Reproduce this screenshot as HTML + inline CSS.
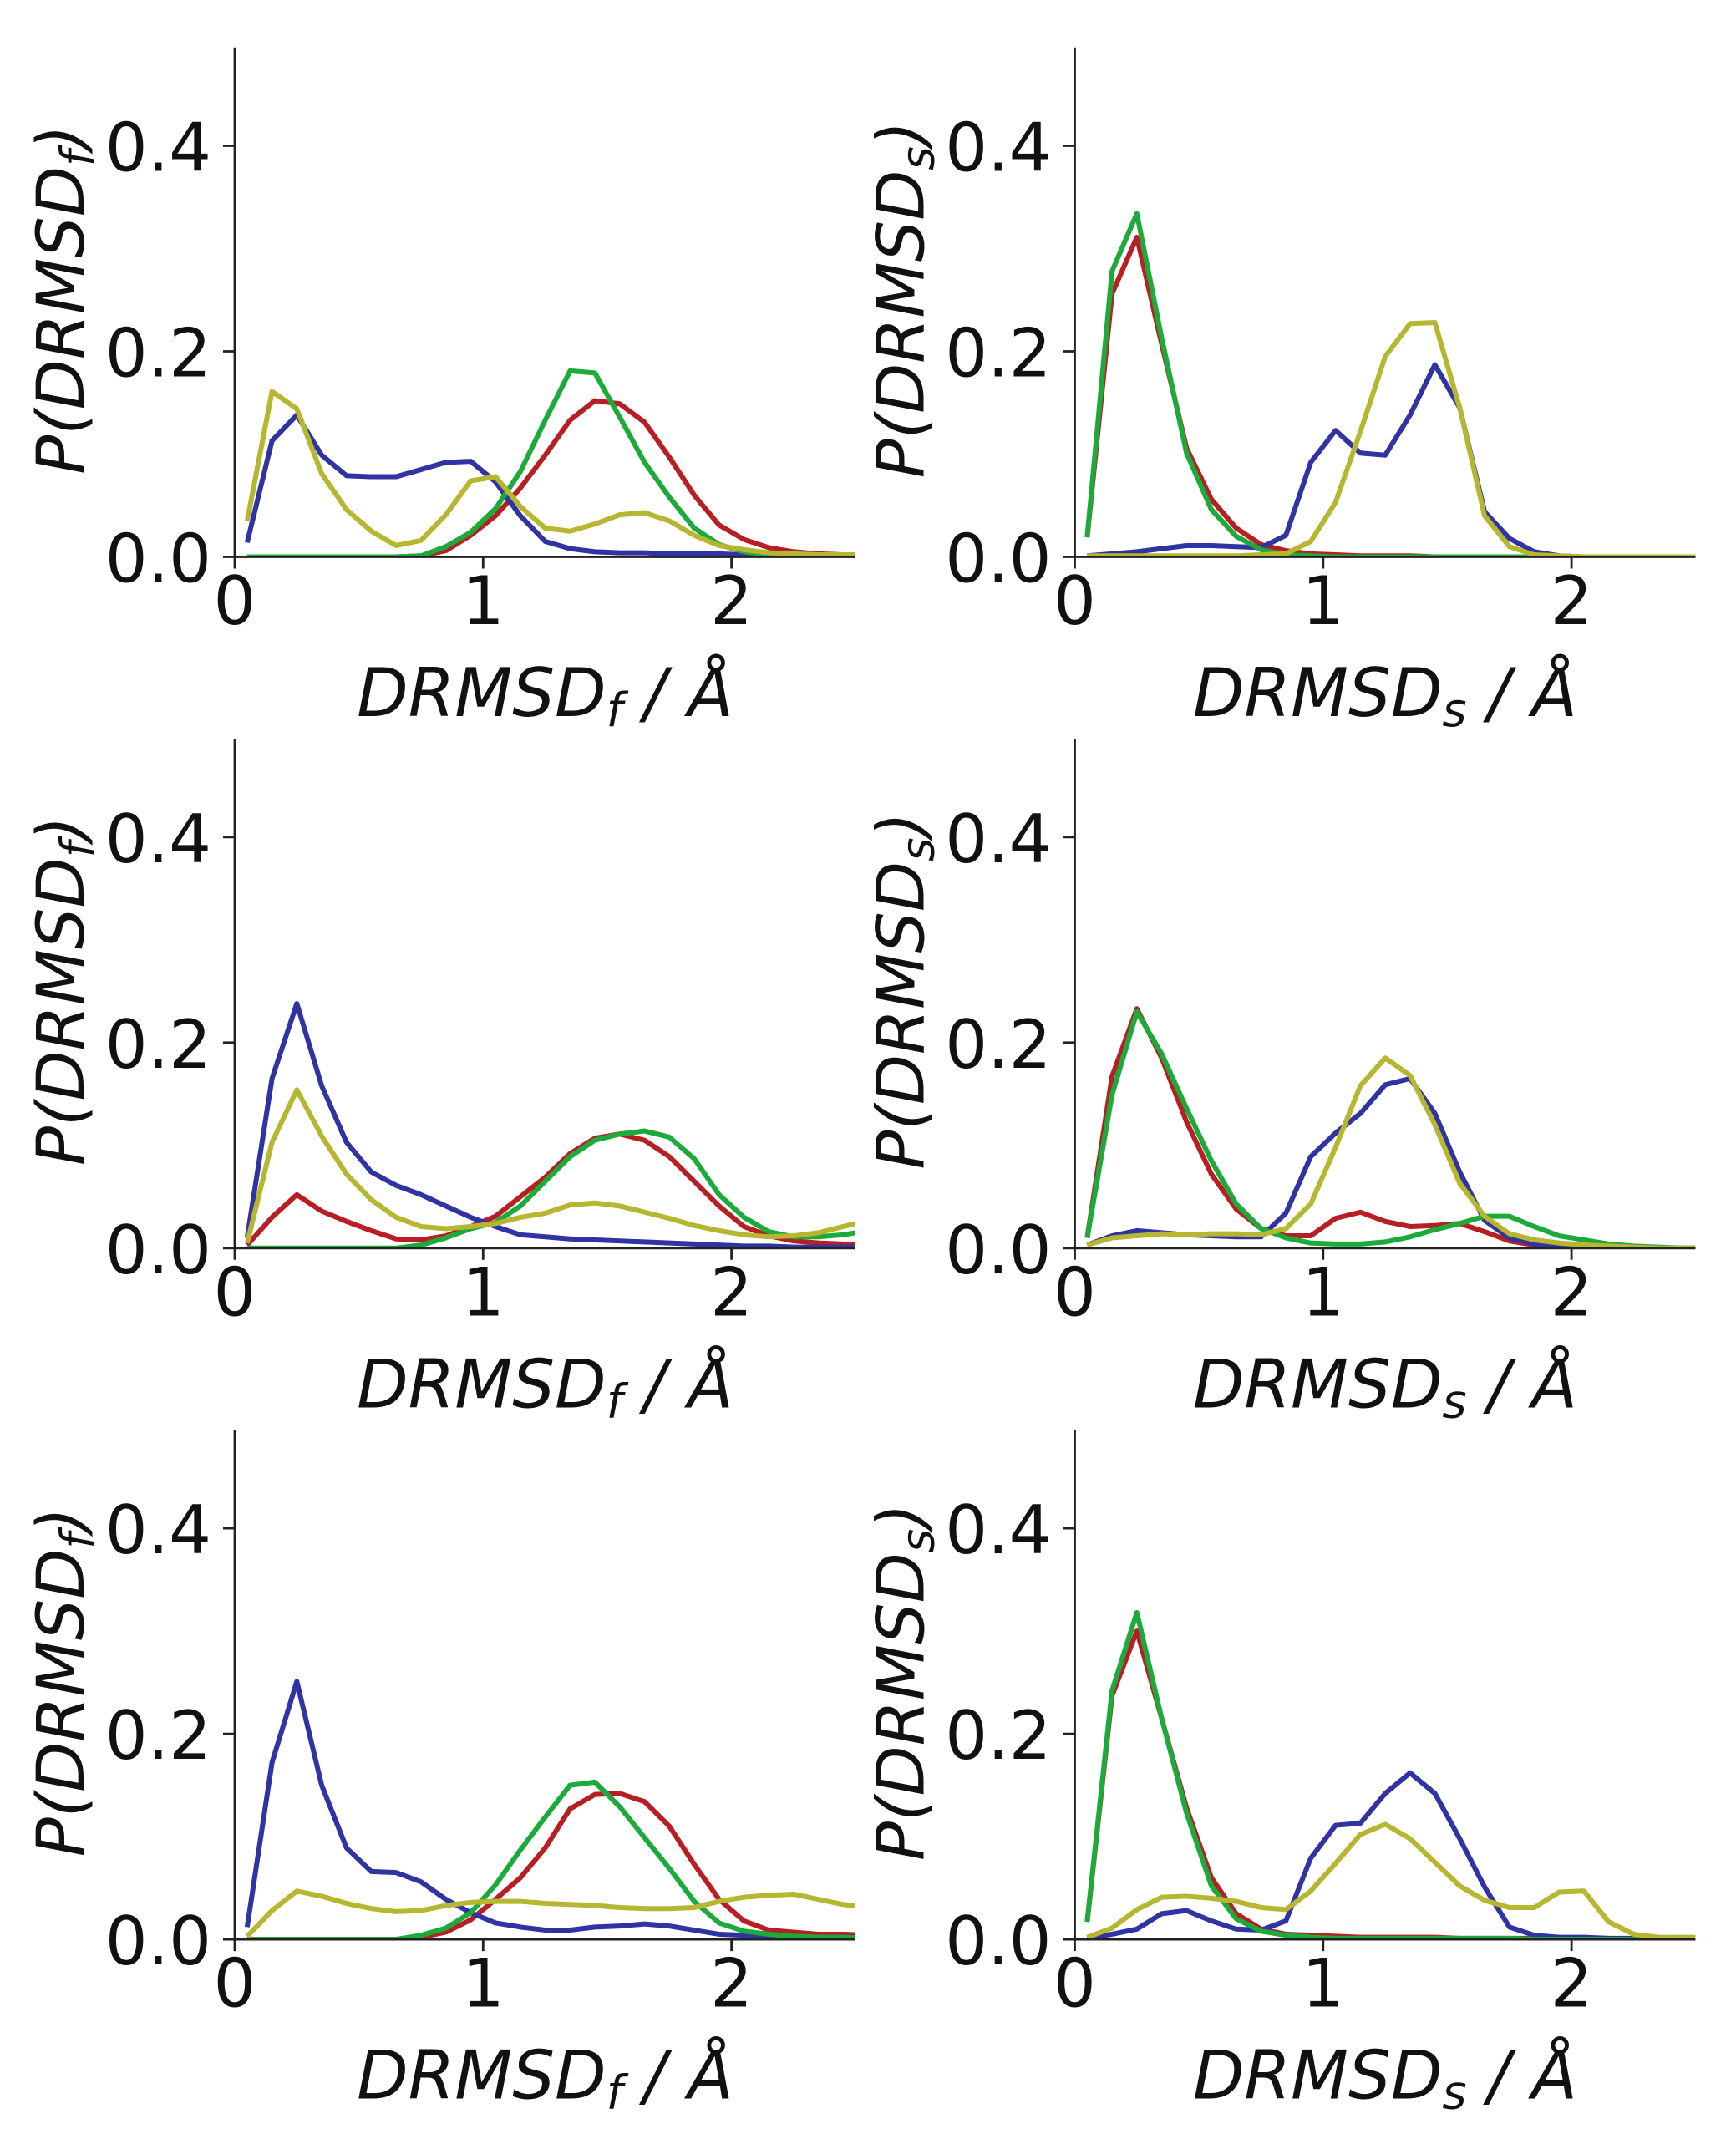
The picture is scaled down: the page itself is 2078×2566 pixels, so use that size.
<!DOCTYPE html>
<html>
<head>
<meta charset="utf-8">
<style>
  html, body { margin: 0; padding: 0; background: #ffffff; }
  svg { display: block; }
  text { font-family: "DejaVu Sans", "Liberation Sans", sans-serif; font-size: 80px; fill: #111; }
  .ln { fill: none; stroke-width: 6; stroke-linejoin: round; stroke-linecap: butt; }
  .r { stroke: #b81f24; }
  .b { stroke: #2f34a2; }
  .g { stroke: #1cab3a; }
  .y { stroke: #b6b630; }
  .ax { fill: none; stroke: #222; stroke-width: 2.8; }
  .it { font-style: italic; }
  .yl { font-size: 78px; }
</style>
</head>
<body>
<svg width="2078" height="2566" viewBox="0 0 2078 2566" xmlns="http://www.w3.org/2000/svg">
  <defs>
    <clipPath id="c" clipPathUnits="userSpaceOnUse">
      <rect x="281" y="56" width="743" height="611.5"/>
    </clipPath>
  </defs>

  <!-- ===== Row 1 Left ===== -->
  <g transform="translate(0,0)">
    <g clip-path="url(#c)">
      <g transform="translate(281,666.5) scale(297.3,-1230)">
        <polyline class="ln r" vector-effect="non-scaling-stroke" points="0.05,0 0.15,0 0.25,0 0.35,0 0.45,0 0.55,0 0.65,0 0.75,0.001 0.85,0.006 0.95,0.021 1.05,0.040 1.15,0.067 1.25,0.099 1.35,0.133 1.45,0.152 1.55,0.149 1.65,0.131 1.75,0.097 1.85,0.060 1.95,0.031 2.05,0.017 2.15,0.009 2.25,0.005 2.35,0.003 2.45,0.002 2.55,0.001"/>
        <polyline class="ln b" vector-effect="non-scaling-stroke" points="0.05,0.014 0.15,0.113 0.25,0.138 0.35,0.099 0.45,0.079 0.55,0.078 0.65,0.078 0.75,0.085 0.85,0.092 0.95,0.093 1.05,0.073 1.15,0.040 1.25,0.015 1.35,0.008 1.45,0.005 1.55,0.004 1.65,0.004 1.75,0.003 1.85,0.003 1.95,0.003 2.05,0.002 2.15,0.002 2.25,0.001 2.35,0.001 2.45,0.001 2.55,0.001"/>
        <polyline class="ln g" vector-effect="non-scaling-stroke" points="0.05,0 0.15,0 0.25,0 0.35,0 0.45,0 0.55,0 0.65,0 0.75,0.001 0.85,0.010 0.95,0.024 1.05,0.047 1.15,0.083 1.25,0.133 1.35,0.181 1.45,0.179 1.55,0.136 1.65,0.092 1.75,0.058 1.85,0.028 1.95,0.012 2.05,0.005 2.15,0.002 2.25,0.001 2.35,0.001 2.45,0.001 2.55,0"/>
        <polyline class="ln y" vector-effect="non-scaling-stroke" points="0.05,0.035 0.15,0.161 0.25,0.144 0.35,0.081 0.45,0.046 0.55,0.025 0.65,0.011 0.75,0.016 0.85,0.041 0.95,0.074 1.05,0.078 1.15,0.049 1.25,0.028 1.35,0.025 1.45,0.032 1.55,0.041 1.65,0.043 1.75,0.035 1.85,0.021 1.95,0.011 2.05,0.007 2.15,0.004 2.25,0.003 2.35,0.002 2.45,0.002 2.55,0.002"/>
      </g>
    </g>
    <path class="ax" d="M281,56.7V666.5H1024"/>
    <path class="ax" d="M267,666.5H281M267,420.5H281M267,174.5H281M281,666.5V680.5M578.3,666.5V680.5M875.6,666.5V680.5"/>
    <text x="253" y="696.5" text-anchor="end">0.0</text>
    <text x="253" y="450.5" text-anchor="end">0.2</text>
    <text x="253" y="204.5" text-anchor="end">0.4</text>
    <text x="281" y="747" text-anchor="middle">0</text>
    <text x="578.3" y="747" text-anchor="middle">1</text>
    <text x="875.6" y="747" text-anchor="middle">2</text>
    <text class="it" x="652.5" y="857" text-anchor="middle" xml:space="preserve">DRMSD<tspan font-size="56" dy="12">f</tspan><tspan dy="-12"> / Å</tspan></text>
    <text class="it yl" transform="translate(100,358.5) rotate(-90)" text-anchor="middle">P(DRMSD<tspan font-size="55" dy="12">f</tspan><tspan dy="-12">)</tspan></text>
  </g>

  <!-- ===== Row 1 Right ===== -->
  <g transform="translate(1005.5,0)">
    <g clip-path="url(#c)">
      <g transform="translate(281,666.5) scale(297.3,-1230)">
        <polyline class="ln r" vector-effect="non-scaling-stroke" points="0.05,0.019 0.15,0.256 0.25,0.311 0.35,0.207 0.45,0.106 0.55,0.056 0.65,0.028 0.75,0.012 0.85,0.006 0.95,0.003 1.05,0.002 1.15,0.001 1.25,0.001 1.35,0.001 1.45,0 1.55,0 1.65,0 1.75,0 1.85,0 1.95,0 2.05,0 2.15,0 2.25,0 2.35,0 2.45,0 2.55,0"/>
        <polyline class="ln b" vector-effect="non-scaling-stroke" points="0.05,0.001 0.15,0.003 0.25,0.005 0.35,0.008 0.45,0.011 0.55,0.011 0.65,0.010 0.75,0.009 0.85,0.021 0.95,0.092 1.05,0.123 1.15,0.101 1.25,0.099 1.35,0.138 1.45,0.187 1.55,0.145 1.65,0.044 1.75,0.018 1.85,0.005 1.95,0.001 2.05,0 2.15,0 2.25,0 2.35,0 2.45,0 2.55,0"/>
        <polyline class="ln g" vector-effect="non-scaling-stroke" points="0.05,0.019 0.15,0.278 0.25,0.334 0.35,0.213 0.45,0.101 0.55,0.046 0.65,0.020 0.75,0.007 0.85,0.002 0.95,0.001 1.05,0 1.15,0 1.25,0 1.35,0 1.45,0 1.55,0 1.65,0 1.75,0 1.85,0 1.95,0 2.05,0 2.15,0 2.25,0 2.35,0 2.45,0 2.55,0"/>
        <polyline class="ln y" vector-effect="non-scaling-stroke" points="0.05,0.001 0.15,0.001 0.25,0.001 0.35,0.001 0.45,0.001 0.55,0.001 0.65,0.001 0.75,0.002 0.85,0.003 0.95,0.015 1.05,0.053 1.15,0.122 1.25,0.195 1.35,0.227 1.45,0.228 1.55,0.145 1.65,0.040 1.75,0.010 1.85,0.002 1.95,0.001 2.05,0 2.15,0 2.25,0 2.35,0 2.45,0 2.55,0"/>
      </g>
    </g>
    <path class="ax" d="M281,56.7V666.5H1024"/>
    <path class="ax" d="M267,666.5H281M267,420.5H281M267,174.5H281M281,666.5V680.5M578.3,666.5V680.5M875.6,666.5V680.5"/>
    <text x="253" y="696.5" text-anchor="end">0.0</text>
    <text x="253" y="450.5" text-anchor="end">0.2</text>
    <text x="253" y="204.5" text-anchor="end">0.4</text>
    <text x="281" y="747" text-anchor="middle">0</text>
    <text x="578.3" y="747" text-anchor="middle">1</text>
    <text x="875.6" y="747" text-anchor="middle">2</text>
    <text class="it" x="652.5" y="857" text-anchor="middle" xml:space="preserve">DRMSD<tspan font-size="56" dy="12">s</tspan><tspan dy="-12"> / Å</tspan></text>
    <text class="it yl" transform="translate(100,358.5) rotate(-90)" text-anchor="middle">P(DRMSD<tspan font-size="55" dy="12">s</tspan><tspan dy="-12">)</tspan></text>
  </g>

  <!-- ===== Row 2 Left ===== -->
  <g transform="translate(0,827.3)">
    <g clip-path="url(#c)">
      <g transform="translate(281,666.5) scale(297.3,-1230)">
        <polyline class="ln r" vector-effect="non-scaling-stroke" points="0.05,0.003 0.15,0.030 0.25,0.052 0.35,0.036 0.45,0.026 0.55,0.017 0.65,0.009 0.75,0.008 0.85,0.012 0.95,0.021 1.05,0.031 1.15,0.050 1.25,0.069 1.35,0.092 1.45,0.107 1.55,0.111 1.65,0.105 1.75,0.089 1.85,0.065 1.95,0.041 2.05,0.021 2.15,0.012 2.25,0.007 2.35,0.005 2.45,0.004 2.55,0.003"/>
        <polyline class="ln b" vector-effect="non-scaling-stroke" points="0.05,0.010 0.15,0.165 0.25,0.238 0.35,0.158 0.45,0.103 0.55,0.074 0.65,0.061 0.75,0.052 0.85,0.041 0.95,0.030 1.05,0.021 1.15,0.013 1.25,0.011 1.35,0.009 1.45,0.008 1.55,0.007 1.65,0.006 1.75,0.005 1.85,0.004 1.95,0.003 2.05,0.002 2.15,0.002 2.25,0.001 2.35,0.001 2.45,0.001 2.55,0.001"/>
        <polyline class="ln g" vector-effect="non-scaling-stroke" points="0.05,0 0.15,0 0.25,0 0.35,0 0.45,0 0.55,0 0.65,0 0.75,0.003 0.85,0.010 0.95,0.019 1.05,0.025 1.15,0.041 1.25,0.065 1.35,0.089 1.45,0.105 1.55,0.111 1.65,0.114 1.75,0.108 1.85,0.087 1.95,0.052 2.05,0.030 2.15,0.016 2.25,0.011 2.35,0.011 2.45,0.013 2.55,0.017"/>
        <polyline class="ln y" vector-effect="non-scaling-stroke" points="0.05,0.005 0.15,0.103 0.25,0.154 0.35,0.109 0.45,0.072 0.55,0.047 0.65,0.030 0.75,0.021 0.85,0.019 0.95,0.021 1.05,0.024 1.15,0.030 1.25,0.034 1.35,0.042 1.45,0.044 1.55,0.041 1.65,0.035 1.75,0.029 1.85,0.022 1.95,0.017 2.05,0.013 2.15,0.011 2.25,0.012 2.35,0.015 2.45,0.021 2.55,0.027"/>
      </g>
    </g>
    <path class="ax" d="M281,56.7V666.5H1024"/>
    <path class="ax" d="M267,666.5H281M267,420.5H281M267,174.5H281M281,666.5V680.5M578.3,666.5V680.5M875.6,666.5V680.5"/>
    <text x="253" y="696.5" text-anchor="end">0.0</text>
    <text x="253" y="450.5" text-anchor="end">0.2</text>
    <text x="253" y="204.5" text-anchor="end">0.4</text>
    <text x="281" y="747" text-anchor="middle">0</text>
    <text x="578.3" y="747" text-anchor="middle">1</text>
    <text x="875.6" y="747" text-anchor="middle">2</text>
    <text class="it" x="652.5" y="857" text-anchor="middle" xml:space="preserve">DRMSD<tspan font-size="56" dy="12">f</tspan><tspan dy="-12"> / Å</tspan></text>
    <text class="it yl" transform="translate(100,358.5) rotate(-90)" text-anchor="middle">P(DRMSD<tspan font-size="55" dy="12">f</tspan><tspan dy="-12">)</tspan></text>
  </g>

  <!-- ===== Row 2 Right ===== -->
  <g transform="translate(1005.5,827.3)">
    <g clip-path="url(#c)">
      <g transform="translate(281,666.5) scale(297.3,-1230)">
        <polyline class="ln r" vector-effect="non-scaling-stroke" points="0.05,0.010 0.15,0.167 0.25,0.233 0.35,0.185 0.45,0.123 0.55,0.072 0.65,0.038 0.75,0.019 0.85,0.012 0.95,0.012 1.05,0.029 1.15,0.035 1.25,0.026 1.35,0.021 1.45,0.022 1.55,0.024 1.65,0.016 1.75,0.007 1.85,0.003 1.95,0.001 2.05,0 2.15,0 2.25,0 2.35,0 2.45,0 2.55,0"/>
        <polyline class="ln b" vector-effect="non-scaling-stroke" points="0.05,0.003 0.15,0.012 0.25,0.017 0.35,0.015 0.45,0.013 0.55,0.012 0.65,0.011 0.75,0.011 0.85,0.034 0.95,0.089 1.05,0.112 1.15,0.131 1.25,0.159 1.35,0.165 1.45,0.131 1.55,0.074 1.65,0.027 1.75,0.010 1.85,0.004 1.95,0.002 2.05,0.001 2.15,0 2.25,0 2.35,0 2.45,0 2.55,0"/>
        <polyline class="ln g" vector-effect="non-scaling-stroke" points="0.05,0.010 0.15,0.149 0.25,0.230 0.35,0.189 0.45,0.136 0.55,0.085 0.65,0.043 0.75,0.019 0.85,0.010 0.95,0.005 1.05,0.004 1.15,0.004 1.25,0.006 1.35,0.011 1.45,0.018 1.55,0.024 1.65,0.031 1.75,0.031 1.85,0.021 1.95,0.012 2.05,0.008 2.15,0.004 2.25,0.002 2.35,0.001 2.45,0 2.55,0"/>
        <polyline class="ln y" vector-effect="non-scaling-stroke" points="0.05,0.003 0.15,0.010 0.25,0.012 0.35,0.014 0.45,0.013 0.55,0.014 0.65,0.014 0.75,0.013 0.85,0.019 0.95,0.043 1.05,0.098 1.15,0.158 1.25,0.185 1.35,0.168 1.45,0.120 1.55,0.063 1.65,0.031 1.75,0.014 1.85,0.008 1.95,0.005 2.05,0.003 2.15,0.002 2.25,0.001 2.35,0 2.45,0 2.55,0"/>
      </g>
    </g>
    <path class="ax" d="M281,56.7V666.5H1024"/>
    <path class="ax" d="M267,666.5H281M267,420.5H281M267,174.5H281M281,666.5V680.5M578.3,666.5V680.5M875.6,666.5V680.5"/>
    <text x="253" y="696.5" text-anchor="end">0.0</text>
    <text x="253" y="450.5" text-anchor="end">0.2</text>
    <text x="253" y="204.5" text-anchor="end">0.4</text>
    <text x="281" y="747" text-anchor="middle">0</text>
    <text x="578.3" y="747" text-anchor="middle">1</text>
    <text x="875.6" y="747" text-anchor="middle">2</text>
    <text class="it" x="652.5" y="857" text-anchor="middle" xml:space="preserve">DRMSD<tspan font-size="56" dy="12">s</tspan><tspan dy="-12"> / Å</tspan></text>
    <text class="it yl" transform="translate(100,358.5) rotate(-90)" text-anchor="middle">P(DRMSD<tspan font-size="55" dy="12">s</tspan><tspan dy="-12">)</tspan></text>
  </g>

  <!-- ===== Row 3 Left ===== -->
  <g transform="translate(0,1654.6)">
    <g clip-path="url(#c)">
      <g transform="translate(281,666.5) scale(297.3,-1230)">
        <polyline class="ln r" vector-effect="non-scaling-stroke" points="0.05,0 0.15,0 0.25,0 0.35,0 0.45,0 0.55,0 0.65,0 0.75,0.002 0.85,0.007 0.95,0.019 1.05,0.039 1.15,0.060 1.25,0.089 1.35,0.127 1.45,0.141 1.55,0.142 1.65,0.134 1.75,0.110 1.85,0.073 1.95,0.039 2.05,0.018 2.15,0.009 2.25,0.007 2.35,0.005 2.45,0.005 2.55,0.004"/>
        <polyline class="ln b" vector-effect="non-scaling-stroke" points="0.05,0.012 0.15,0.172 0.25,0.251 0.35,0.150 0.45,0.089 0.55,0.066 0.65,0.065 0.75,0.056 0.85,0.039 0.95,0.026 1.05,0.016 1.15,0.012 1.25,0.009 1.35,0.009 1.45,0.012 1.55,0.013 1.65,0.015 1.75,0.013 1.85,0.009 1.95,0.005 2.05,0.004 2.15,0.003 2.25,0.002 2.35,0.002 2.45,0.002 2.55,0.002"/>
        <polyline class="ln g" vector-effect="non-scaling-stroke" points="0.05,0 0.15,0 0.25,0 0.35,0 0.45,0 0.55,0 0.65,0 0.75,0.004 0.85,0.011 0.95,0.026 1.05,0.053 1.15,0.087 1.25,0.119 1.35,0.150 1.45,0.153 1.55,0.129 1.65,0.099 1.75,0.069 1.85,0.037 1.95,0.016 2.05,0.008 2.15,0.005 2.25,0.003 2.35,0.002 2.45,0.002 2.55,0.001"/>
        <polyline class="ln y" vector-effect="non-scaling-stroke" points="0.05,0.003 0.15,0.028 0.25,0.047 0.35,0.042 0.45,0.035 0.55,0.030 0.65,0.027 0.75,0.028 0.85,0.033 0.95,0.036 1.05,0.037 1.15,0.037 1.25,0.035 1.35,0.034 1.45,0.033 1.55,0.031 1.65,0.030 1.75,0.030 1.85,0.031 1.95,0.037 2.05,0.041 2.15,0.043 2.25,0.044 2.35,0.039 2.45,0.034 2.55,0.031"/>
      </g>
    </g>
    <path class="ax" d="M281,56.7V666.5H1024"/>
    <path class="ax" d="M267,666.5H281M267,420.5H281M267,174.5H281M281,666.5V680.5M578.3,666.5V680.5M875.6,666.5V680.5"/>
    <text x="253" y="696.5" text-anchor="end">0.0</text>
    <text x="253" y="450.5" text-anchor="end">0.2</text>
    <text x="253" y="204.5" text-anchor="end">0.4</text>
    <text x="281" y="747" text-anchor="middle">0</text>
    <text x="578.3" y="747" text-anchor="middle">1</text>
    <text x="875.6" y="747" text-anchor="middle">2</text>
    <text class="it" x="652.5" y="857" text-anchor="middle" xml:space="preserve">DRMSD<tspan font-size="56" dy="12">f</tspan><tspan dy="-12"> / Å</tspan></text>
    <text class="it yl" transform="translate(100,358.5) rotate(-90)" text-anchor="middle">P(DRMSD<tspan font-size="55" dy="12">f</tspan><tspan dy="-12">)</tspan></text>
  </g>

  <!-- ===== Row 3 Right ===== -->
  <g transform="translate(1005.5,1654.6)">
    <g clip-path="url(#c)">
      <g transform="translate(281,666.5) scale(297.3,-1230)">
        <polyline class="ln r" vector-effect="non-scaling-stroke" points="0.05,0.017 0.15,0.237 0.25,0.300 0.35,0.215 0.45,0.128 0.55,0.060 0.65,0.025 0.75,0.010 0.85,0.005 0.95,0.004 1.05,0.003 1.15,0.002 1.25,0.002 1.35,0.002 1.45,0.002 1.55,0.001 1.65,0.001 1.75,0.001 1.85,0.001 1.95,0.001 2.05,0.001 2.15,0 2.25,0 2.35,0 2.45,0 2.55,0"/>
        <polyline class="ln b" vector-effect="non-scaling-stroke" points="0.05,0.001 0.15,0.005 0.25,0.010 0.35,0.025 0.45,0.028 0.55,0.018 0.65,0.010 0.75,0.009 0.85,0.018 0.95,0.079 1.05,0.111 1.15,0.113 1.25,0.142 1.35,0.162 1.45,0.142 1.55,0.098 1.65,0.051 1.75,0.012 1.85,0.004 1.95,0.002 2.05,0.002 2.15,0.001 2.25,0.001 2.35,0.001 2.45,0.001 2.55,0.001"/>
        <polyline class="ln g" vector-effect="non-scaling-stroke" points="0.05,0.017 0.15,0.242 0.25,0.318 0.35,0.215 0.45,0.123 0.55,0.052 0.65,0.020 0.75,0.008 0.85,0.004 0.95,0.002 1.05,0.001 1.15,0.001 1.25,0.001 1.35,0.001 1.45,0.001 1.55,0.001 1.65,0.001 1.75,0.001 1.85,0 1.95,0 2.05,0 2.15,0 2.25,0 2.35,0 2.45,0 2.55,0"/>
        <polyline class="ln y" vector-effect="non-scaling-stroke" points="0.05,0.002 0.15,0.011 0.25,0.029 0.35,0.041 0.45,0.042 0.55,0.040 0.65,0.037 0.75,0.031 0.85,0.029 0.95,0.047 1.05,0.074 1.15,0.102 1.25,0.112 1.35,0.098 1.45,0.075 1.55,0.052 1.65,0.038 1.75,0.031 1.85,0.031 1.95,0.046 2.05,0.047 2.15,0.017 2.25,0.005 2.35,0.002 2.45,0.002 2.55,0.002"/>
      </g>
    </g>
    <path class="ax" d="M281,56.7V666.5H1024"/>
    <path class="ax" d="M267,666.5H281M267,420.5H281M267,174.5H281M281,666.5V680.5M578.3,666.5V680.5M875.6,666.5V680.5"/>
    <text x="253" y="696.5" text-anchor="end">0.0</text>
    <text x="253" y="450.5" text-anchor="end">0.2</text>
    <text x="253" y="204.5" text-anchor="end">0.4</text>
    <text x="281" y="747" text-anchor="middle">0</text>
    <text x="578.3" y="747" text-anchor="middle">1</text>
    <text x="875.6" y="747" text-anchor="middle">2</text>
    <text class="it" x="652.5" y="857" text-anchor="middle" xml:space="preserve">DRMSD<tspan font-size="56" dy="12">s</tspan><tspan dy="-12"> / Å</tspan></text>
    <text class="it yl" transform="translate(100,358.5) rotate(-90)" text-anchor="middle">P(DRMSD<tspan font-size="55" dy="12">s</tspan><tspan dy="-12">)</tspan></text>
  </g>
</svg>
</body>
</html>
